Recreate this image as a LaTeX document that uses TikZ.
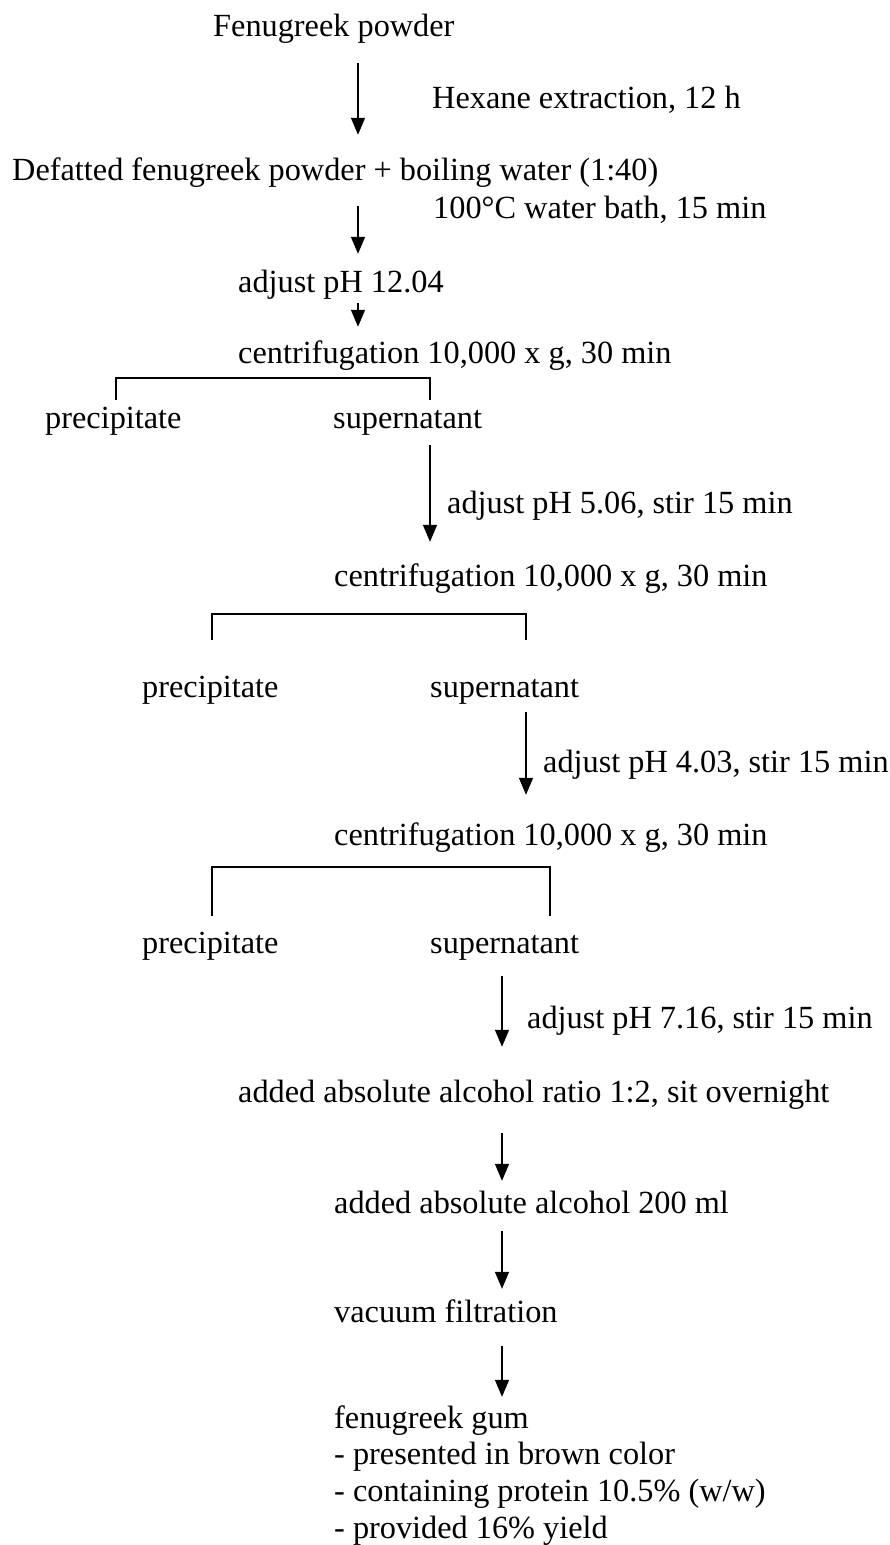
\documentclass[tikz,border=0pt]{standalone}
\usepackage{fontspec}
\setmainfont{Liberation Serif}
\usetikzlibrary{arrows.meta}
\begin{document}
\begin{tikzpicture}[x=1pt,y=-1pt,
  txt/.style={inner sep=0pt, anchor=base west, text height=22pt, text depth=8pt,
              font=\fontsize{32.3}{37}\selectfont},
  arr/.style={line width=1.5pt, -{Triangle[width=14pt,length=17pt]}},
  brk/.style={line width=1.5pt}]
\useasboundingbox (0,0) rectangle (890,1545);
% text nodes
\node[txt] (fp)   at (213,36)  {Fenugreek powder};
\node[txt] (hex)  at (432,108) {Hexane extraction, 12 h};
\node[txt] (def)  at (12,180)  {Defatted fenugreek powder + boiling water (1:40)};
\node[txt] (wat)  at (433,218) {100°C water bath, 15 min};
\node[txt] (ph12) at (238,292) {adjust pH 12.04};
\node[txt] (cen1) at (238,363) {centrifugation 10,000 x g, 30 min};
\node[txt] (pre1) at (45,428)  {precipitate};
\node[txt] (sup1) at (333,428) {supernatant};
\node[txt] (ph5)  at (447,513) {adjust pH 5.06, stir 15 min};
\node[txt] (cen2) at (334,586) {centrifugation 10,000 x g, 30 min};
\node[txt] (pre2) at (142,697) {precipitate};
\node[txt] (sup2) at (430,697) {supernatant};
\node[txt] (ph4)  at (543,772) {adjust pH 4.03, stir 15 min};
\node[txt] (cen3) at (334,845) {centrifugation 10,000 x g, 30 min};
\node[txt] (pre3) at (142,953) {precipitate};
\node[txt] (sup3) at (430,953) {supernatant};
\node[txt] (ph7)  at (527,1028) {adjust pH 7.16, stir 15 min};
\node[txt] (alc1) at (238,1102) {added absolute alcohol ratio 1:2, sit overnight};
\node[txt] (alc2) at (334,1213) {added absolute alcohol 200 ml};
\node[txt] (vac)  at (334,1322) {vacuum filtration};
\node[txt] (gum)  at (334,1428) {fenugreek gum};
\node[txt] (gum1) at (334,1464) {- presented in brown color};
\node[txt] (gum2) at (334,1501) {- containing protein 10.5\% (w/w)};
\node[txt] (gum3) at (334,1538) {- provided 16\% yield};
% x positions of connectors
\coordinate (xa) at (358,0);
\coordinate (xb1l) at (116,0);
\coordinate (xb1r) at (430,0);
\coordinate (xb2l) at (212,0);
\coordinate (xb2r) at (526,0);
\coordinate (xb3l) at (212,0);
\coordinate (xb3r) at (550,0);
\coordinate (xc) at (502,0);
% arrows
\draw[arr, shorten <=19pt, shorten >=23pt] (fp.south -| xa) -- (def.north -| xa);
\draw[arr, shorten <=18pt, shorten >=16pt] (def.south -| xa) -- (ph12.north -| xa);
\draw[arr, shorten <=3pt, shorten >=14pt] (ph12.south -| xa) -- (cen1.north -| xa);
\draw[arr, shorten <=9pt, shorten >=22pt] (sup1.south -| xb1r) -- (cen2.north -| xb1r);
\draw[arr, shorten <=7pt, shorten >=28pt] (sup2.south -| xb2r) -- (cen3.north -| xb2r);
\draw[arr, shorten <=15pt, shorten >=33pt] (sup3.south -| xc) -- (alc1.north -| xc);
\draw[arr, shorten <=23pt, shorten >=10pt] (alc1.south -| xc) -- (alc2.north -| xc);
\draw[arr, shorten <=10pt, shorten >=11pt] (alc2.south -| xc) -- (vac.north -| xc);
\draw[arr, shorten <=16pt, shorten >=9pt] (vac.south -| xc) -- (gum.north -| xc);
% brackets
\draw[brk] ([yshift=6pt]pre1.north -| xb1l) |- ([yshift=-7pt]cen1.south -| xb1r) -- ([yshift=6pt]sup1.north -| xb1r);
\draw[brk] ([yshift=35pt]pre2.north -| xb2l) |- ([yshift=-20pt]cen2.south -| xb2r) -- ([yshift=35pt]sup2.north -| xb2r);
\draw[brk] ([yshift=15pt]pre3.north -| xb3l) |- ([yshift=-14pt]cen3.south -| xb3r) -- ([yshift=15pt]sup3.north -| xb3r);
\end{tikzpicture}
\end{document}
